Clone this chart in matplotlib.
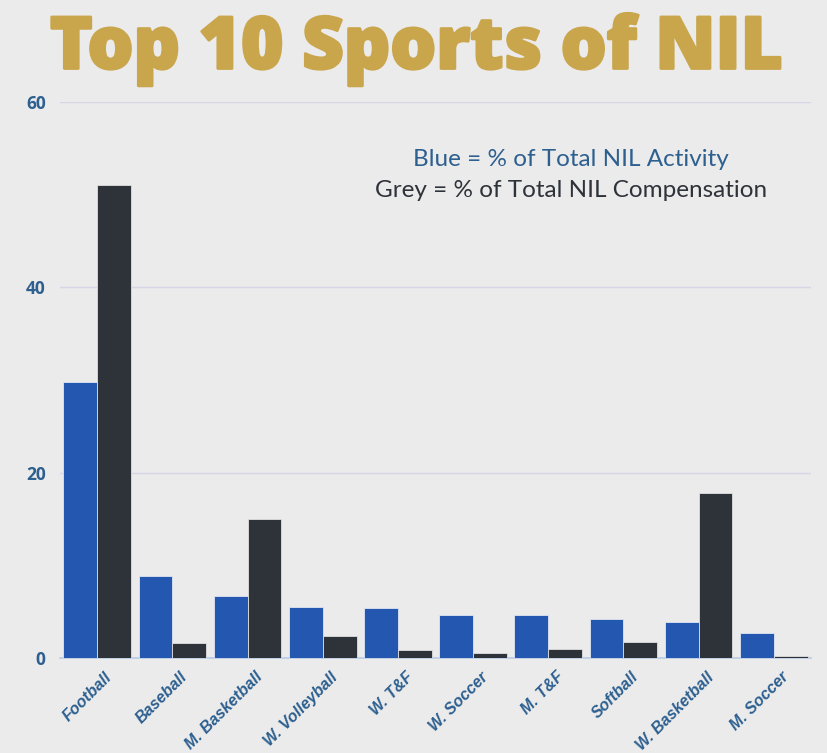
import matplotlib
matplotlib.use("Agg")
import matplotlib.pyplot as plt
import matplotlib.patheffects as pe
import numpy as np

categories = ["Football", "Baseball", "M. Basketball", "W. Volleyball", "W. T&F",
              "W. Soccer", "M. T&F", "Softball", "W. Basketball", "M. Soccer"]
activity = [29.8, 8.9, 6.7, 5.5, 5.4, 4.6, 4.6, 4.2, 3.9, 2.7]
compensation = [51.0, 1.6, 15.0, 2.4, 0.9, 0.5, 1.0, 1.7, 17.8, 0.2]
yticks = [0, 20, 40, 60]

BG = "#ebebeb"
BLUE = "#2458b0"
GREY = "#2e3239"
GOLD = "#c9a54c"
TICK = "#2d5f8f"

fig = plt.figure(figsize=(8.28, 7.53), dpi=100, facecolor=BG)
ax = fig.add_axes([0.072, 0.126, 0.908, 0.739])
ax.set_facecolor(BG)

x = np.arange(len(categories))
w = 0.45
ax.bar(x - w / 2, activity, width=w, color=BLUE, edgecolor="#dfe6f2", linewidth=0.6, zorder=3)
ax.bar(x + w / 2, compensation, width=w, color=GREY, edgecolor="#e0e0e0", linewidth=0.6, zorder=3)

ax.set_xlim(-0.5, len(categories) - 0.5)
ax.set_ylim(0, 60)
ax.set_yticks(yticks)
ax.set_yticklabels([str(t) for t in yticks], fontsize=12.5, fontweight="bold",
                   color=TICK, family=["Open Sans", "DejaVu Sans"])
ax.grid(axis="y", color="#d6d6e6", linewidth=1.0, zorder=0)
ax.tick_params(axis="both", length=0)
ax.tick_params(axis="y", pad=10)
for s in ["top", "right", "left"]:
    ax.spines[s].set_visible(False)
ax.spines["bottom"].set_color("#b8cbe6")
ax.spines["bottom"].set_linewidth(1.2)

ax.set_xticks(x + 0.1)
ax.set_xticklabels(categories, rotation=45, ha="right", rotation_mode="anchor",
                   fontsize=11.5, fontweight="bold", fontstyle="italic", color=TICK,
                   family=["Liberation Sans", "DejaVu Sans"])
ax.tick_params(axis="x", pad=8)

fig.text(0.503, 0.909, "Top 10 Sports of NIL", ha="center", va="baseline",
         fontsize=52, fontweight="heavy", color=GOLD, family=["Open Sans", "DejaVu Sans"],
         path_effects=[pe.withStroke(linewidth=2, foreground=GOLD)])

ax.text(0.68, 0.896, "Blue = % of Total NIL Activity", transform=ax.transAxes,
        ha="center", va="center", fontsize=17.5, color=TICK, family=["Lato", "DejaVu Sans"])
ax.text(0.68, 0.840, "Grey = % of Total NIL Compensation", transform=ax.transAxes,
        ha="center", va="center", fontsize=17.5, color=GREY, family=["Lato", "DejaVu Sans"])

fig.savefig("out.png", dpi=100, facecolor=BG)
